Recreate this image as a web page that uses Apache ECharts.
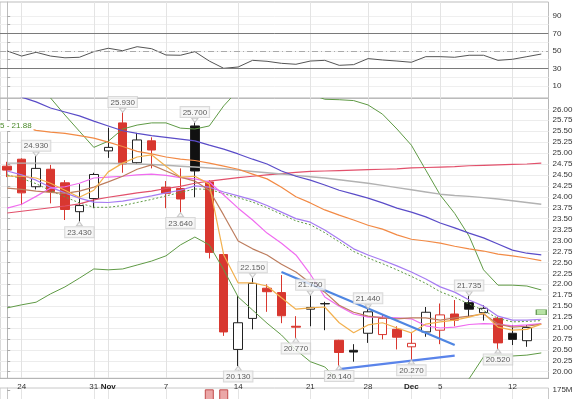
<!DOCTYPE html>
<html>
<head>
<meta charset="utf-8">
<script src="https://cdn.jsdelivr.net/npm/echarts@6/dist/echarts.min.js"></script>
<style>
  html, body { margin: 0; padding: 0; background: #fff; }
  #chart { width: 585px; height: 399px; }
</style>
</head>
<body>
<div id="chart"></div>
<script>
// trading days on screen (last one only carries indicator values)
const days = ['Oct 21','Oct 24','Oct 25','Oct 26','Oct 27','Oct 28','Oct 31',
  'Nov 1','Nov 2','Nov 3','Nov 4','Nov 7','Nov 8','Nov 9','Nov 10','Nov 11',
  'Nov 14','Nov 15','Nov 16','Nov 17','Nov 18','Nov 21','Nov 22','Nov 23','Nov 25',
  'Nov 28','Nov 29','Nov 30','Dec 1','Dec 2','Dec 5','Dec 6','Dec 7','Dec 8','Dec 9',
  'Dec 12','Dec 13','Dec 14']

// x axis labels
const tickDays = ['Oct 24','Oct 31','Nov 1','Nov 7','Nov 14','Nov 21','Nov 28','Dec 1','Dec 5','Dec 12']
const tickText = ['24','31','Nov','7','14','21','28','Dec','5','12']
const monthTicks = ['Nov','Dec']

// price axis ticks
const priceTicks = [20.00,20.25,20.50,20.75,21.00,21.25,21.50,21.75,22.00,22.25,22.50,22.75,
  23.00,23.25,23.50,23.75,24.00,24.25,24.50,24.75,25.00,25.25,25.50,25.75,26.00]
const rsiTicks = [10,20,30,40,50,60,70,80,90]
const rsiLabels = [10,30,50,70,90]

// OHLC
const opens  = [24.70,24.86,24.23,24.63,24.32,23.66,23.96,25.05,25.69,24.78,25.28,24.22,24.19,25.62,24.34,22.68,
  20.51,21.22,21.91,21.81,21.04,21.43,21.55,20.72,20.49,20.88,20.85,20.97,20.57,20.91,20.95,21.32,21.58,21.35,21.22,
  20.88,20.71,null]
const closes = [24.61,24.09,24.65,24.12,23.71,23.80,24.51,25.13,24.75,25.30,25.07,24.08,23.95,24.59,22.73,20.91,
  21.12,22.02,21.83,21.28,21.02,21.47,21.56,20.44,20.45,21.37,21.22,20.79,20.65,21.36,21.30,21.18,21.43,21.45,20.66,
  20.74,21.01,null]
const lows   = [24.45,23.81,24.17,23.85,23.47,23.43,23.74,24.89,24.55,24.75,24.65,23.74,23.64,23.99,22.59,20.82,
  20.13,20.97,21.37,21.11,20.77,21.04,20.95,20.14,20.23,20.66,20.74,20.51,20.27,20.80,20.63,21.04,21.26,21.17,20.52,
  20.61,20.57,null]
const highs  = [24.80,24.88,24.93,24.73,24.38,24.29,24.55,25.58,25.93,25.46,25.36,24.36,24.65,25.70,24.38,22.72,
  21.73,22.15,22.00,22.21,21.27,21.75,21.60,20.73,20.63,21.44,21.30,21.04,20.89,21.48,21.56,21.64,21.735,21.52,21.26,
  21.07,21.07,null]

// volume (only the two tallest bars reach into view)
const volume = [null,null,null,null,null,null,null,null,null,null,null,null,null,null,181,181,
  null,null,null,null,null,null,null,null,null,null,null,null,null,null,null,null,null,null,null,null,null,null]

// overlays
const maFast = [24.47,24.47,24.43,24.31,24.15,23.99,24.15,24.57,24.77,24.91,24.96,24.70,24.45,24.47,24.29,22.67,
  22.03,22.03,21.96,21.69,21.43,21.46,21.48,21.12,20.89,21.07,21.12,21.00,20.89,21.09,21.14,21.18,21.25,21.34,21.02,
  20.95,20.97,21.09]
const maBrown = [24.20,24.17,24.13,24.10,24.08,24.13,24.22,24.34,24.47,24.63,24.73,24.59,24.45,24.36,24.15,23.58,
  22.99,22.81,22.67,22.46,22.28,22.03,21.82,21.52,21.36,21.27,21.23,21.21,21.23,21.23,21.18,21.23,21.27,21.32,21.09,
  21.02,21.04,21.09]
const maMagenta = [23.74,23.83,24.01,24.20,24.23,24.31,24.43,24.45,24.47,24.50,24.52,24.49,24.44,24.41,24.34,24.04,
  23.74,23.47,23.17,22.94,22.67,22.23,21.71,21.50,21.32,21.25,21.25,21.23,21.21,21.05,21.00,21.02,21.08,21.10,21.09,
  21.05,21.07,21.10]
const maViolet = [24.59,24.50,24.38,24.22,24.09,23.97,23.88,23.87,23.90,23.96,24.02,24.09,24.15,24.25,24.22,24.11,
  24.02,23.93,23.80,23.65,23.50,23.42,23.24,23.03,22.81,22.67,22.55,22.42,22.28,22.12,21.94,21.82,21.64,21.50,21.27,
  21.18,21.18,21.20]
const bbMid = [24.50,24.42,24.30,24.14,24.00,23.86,23.76,23.76,23.80,23.87,23.94,24.02,24.10,24.18,24.17,24.07,
  23.98,23.88,23.75,23.60,23.45,23.36,23.18,22.97,22.75,22.60,22.47,22.33,22.18,22.02,21.83,21.70,21.55,21.40,21.22,
  21.14,21.15,21.17]
const bbUpper = [27.10,26.95,26.70,26.26,25.87,25.50,25.13,25.27,25.55,25.64,25.69,25.69,25.57,25.55,25.62,26.08,
  26.44,26.70,26.80,26.75,26.60,26.35,26.23,26.22,26.20,26.10,25.89,25.55,25.18,24.61,24.04,23.62,23.10,22.33,21.98,
  21.98,21.96,21.87]
const bbLower = [21.46,21.53,21.59,21.78,21.94,22.14,22.35,22.33,22.35,22.44,22.53,22.65,22.90,23.08,22.90,22.33,
  21.71,21.41,21.11,20.84,20.50,20.23,20.11,19.78,19.62,19.50,19.45,19.40,19.38,19.40,19.45,19.55,19.84,20.34,20.38,
  20.36,20.38,20.43]
const maOrange = [25.63,25.60,25.52,25.48,25.45,25.40,25.34,25.25,25.15,25.04,24.98,24.91,24.86,24.83,24.77,24.70,
  24.63,24.52,24.41,24.22,24.00,23.86,23.70,23.58,23.47,23.35,23.26,23.13,23.03,22.99,22.94,22.87,22.81,22.76,22.69,
  22.65,22.60,22.54]
const maBlue = [26.40,26.28,26.17,26.03,25.94,25.85,25.73,25.62,25.51,25.45,25.40,25.36,25.32,25.28,25.18,25.09,
  24.98,24.86,24.75,24.59,24.47,24.38,24.27,24.15,24.06,23.97,23.86,23.74,23.65,23.54,23.40,23.29,23.17,23.06,22.92,
  22.78,22.71,22.67]
const maGrey = [24.77,24.77,24.77,24.77,24.77,24.77,24.77,24.77,24.76,24.75,24.74,24.72,24.70,24.68,24.66,24.64,
  24.61,24.58,24.55,24.52,24.49,24.46,24.43,24.39,24.35,24.31,24.26,24.21,24.16,24.11,24.06,24.03,24.01,23.98,23.95,
  23.91,23.87,23.83]
const maRed = [23.63,23.67,23.71,23.75,23.79,23.84,23.93,23.99,24.04,24.09,24.13,24.19,24.24,24.31,24.36,24.40,
  24.44,24.47,24.50,24.53,24.56,24.58,24.59,24.60,24.61,24.62,24.63,24.64,24.66,24.67,24.68,24.69,24.71,24.72,24.73,
  24.74,24.75,24.77]

const rsi = [49.8,44.0,48.3,44.0,42.0,42.6,49.0,52.9,50.1,54.7,52.4,45.2,44.9,49.0,38.3,30.0,
  31.5,39.1,38.0,35.7,34.6,38.3,39.1,33.4,34.2,41.1,39.5,38.3,36.9,43.3,43.3,42.6,44.9,44.9,39.1,
  40.3,43.3,46.3]

// trendlines
const trendDown = [['Nov 17', 22.28], ['Dec 6', 20.61]]
const trendUp = [['Nov 23', 20.06], ['Dec 6', 20.37]]

// annotated highs / lows
const highMarks = [['Oct 25',24.93],['Nov 2',25.93],['Nov 9',25.70],['Nov 15',22.15],['Nov 21',21.75],['Nov 28',21.44],['Dec 7',21.735]]
const lowMarks = [['Oct 28',23.43],['Nov 8',23.64],['Nov 14',20.13],['Nov 18',20.77],['Nov 23',20.14],['Dec 1',20.27],['Dec 9',20.52]]

const lastPrice = [['Dec 14', 21.36]]

const RED = '#d8372f'

// stockcharts style: filled when close < open, red when close < previous close
const candleData = opens.map((o, i) => {
  if (o == null) return '-'
  const c = closes[i]
  const prev = i > 0 ? closes[i - 1] : o
  const red = c < prev
  const edge = red ? RED : '#222'
  const fill = c > o ? '#fff' : (red ? RED : '#111')
  return {
    value: [o, c, lows[i], highs[i]],
    itemStyle: { color: fill, color0: fill, borderColor: edge, borderColor0: edge }
  }
})

// hidden value axes that only draw the weekly vertical grid lines at candle centres
const tickIdx = tickDays.map(d => days.indexOf(d))
const weekAxis = (g, color) => ({
  type: 'value', gridIndex: g, position: 'top', min: -0.5, max: days.length - 0.5,
  axisLine: { show: false }, axisLabel: { show: false },
  axisTick: { show: false, customValues: tickIdx },
  splitLine: { show: true, lineStyle: { color: color, width: 1 } }
})

const line = (name, data, color, width, extra) => Object.assign({
  name, type: 'line', xAxisIndex: 1, yAxisIndex: 1, data,
  symbol: 'none', z: 4, silent: true,
  lineStyle: { color, width: width || 1 }
}, extra || {})

const gridX = { left: -5.5, right: 36.5 }

const option = {
  animation: false,
  textStyle: { fontFamily: 'Liberation Sans, Arial, sans-serif' },
  grid: [
    Object.assign({ top: 2, height: 96, show: true, borderColor: '#bdbdbd', backgroundColor: '#fff' }, gridX),
    Object.assign({ top: 98.4, height: 279.9, show: true, borderColor: '#b5b5b5', backgroundColor: '#fff' }, gridX),
    Object.assign({ top: 388, height: 56, show: true, borderColor: '#c8c8c8', backgroundColor: '#fff' }, gridX)
  ],
  xAxis: [
    { type: 'category', gridIndex: 0, data: days, boundaryGap: true, axisLine: { show: false },
      axisTick: { show: false }, axisLabel: { show: false }, splitLine: { show: false } },
    { type: 'category', gridIndex: 1, data: days, boundaryGap: true,
      axisLine: { show: true, lineStyle: { color: '#b5b5b5' } },
      axisTick: { show: false }, splitLine: { show: false },
      axisLabel: {
        interval: 0, fontSize: 8, color: '#333', margin: 4,
        formatter: (v) => {
          const k = tickDays.indexOf(v)
          if (k < 0) return ''
          return monthTicks.includes(tickText[k]) ? '{b|' + tickText[k] + '}' : tickText[k]
        },
        rich: { b: { fontWeight: 'bold', fontSize: 8, color: '#222' } }
      } },
    { type: 'category', gridIndex: 2, data: days, boundaryGap: true, axisLine: { show: false },
      axisTick: { show: false }, axisLabel: { show: false }, splitLine: { show: false } },
    weekAxis(0, '#e4e4e4'),
    weekAxis(1, '#e2e2e2'),
    weekAxis(2, '#e4e4e4')
  ],
  yAxis: [
    { type: 'value', gridIndex: 0, position: 'right', min: -3.94, max: 105.77,
      axisLine: { show: true, lineStyle: { color: '#bdbdbd' } },
      axisTick: { show: true, length: 3, lineStyle: { color: '#aaa' }, customValues: rsiTicks },
      axisLabel: { customValues: rsiLabels, fontSize: 8, color: '#333', margin: 4 },
      splitLine: { show: true, lineStyle: { color: '#efefef' } } },
    { type: 'value', gridIndex: 1, position: 'right', min: 19.85, max: 26.25,
      axisLine: { show: true, lineStyle: { color: '#b5b5b5' } },
      axisTick: { show: true, length: 3, lineStyle: { color: '#aaa' }, customValues: priceTicks },
      axisLabel: { customValues: priceTicks, fontSize: 8, color: '#333', margin: 4,
        formatter: (v) => v.toFixed(2) },
      splitLine: { show: true, lineStyle: { color: '#ececec' } } },
    { type: 'value', gridIndex: 2, position: 'right', min: 0, max: 200,
      axisLine: { show: true, lineStyle: { color: '#c8c8c8' } },
      axisTick: { show: true, length: 3, lineStyle: { color: '#aaa' }, customValues: [175] },
      axisLabel: { customValues: [175], fontSize: 8, color: '#333', margin: 4, formatter: (v) => v + 'M' },
      splitLine: { show: false } }
  ],
  series: [
    // RSI panel
    { type: 'line', xAxisIndex: 0, yAxisIndex: 0, data: rsi, symbol: 'none', silent: true, z: 3,
      lineStyle: { color: '#555', width: 1 },
      markLine: {
        symbol: 'none', silent: true, label: { show: false },
        data: [
          { yAxis: 70, lineStyle: { color: '#7a7a7a', type: 'solid', width: 1 } },
          { yAxis: 30, lineStyle: { color: '#7a7a7a', type: 'solid', width: 1 } },
          { yAxis: 50, lineStyle: { color: '#aaa', type: [6, 3, 1, 3], width: 1 } }
        ]
      } },

    // price panel
    { type: 'candlestick', xAxisIndex: 1, yAxisIndex: 1, data: candleData, barWidth: 9, z: 2, silent: true },

    line('BB upper', bbUpper, '#5f9a45', 1),
    line('BB lower', bbLower, '#5f9a45', 1),
    line('BB mid', bbMid, '#5f9a45', 1, { lineStyle: { color: '#5f9a45', width: 1, type: [2, 2] } }),
    line('MA red', maRed, '#e2506b', 1.2),
    line('MA grey', maGrey, '#b2b2b2', 1.4),
    line('MA blue', maBlue, '#5a4cc8', 1.2),
    line('MA orange', maOrange, '#f28a45', 1.2),
    line('MA violet', maViolet, '#a67cf2', 1.2),
    line('MA magenta', maMagenta, '#f06cf0', 1.2),
    line('MA brown', maBrown, '#bd7d5e', 1.2),
    line('MA fast', maFast, '#f2b04e', 1.2),
    line('trend down', trendDown, '#4f86e2', 2.2, { z: 5 }),
    line('trend up', trendUp, '#5a84ea', 2.2, { z: 5 }),

    // high / low annotations
    { type: 'scatter', xAxisIndex: 1, yAxisIndex: 1, data: highMarks, z: 6, silent: true,
      symbol: 'triangle', symbolRotate: 180, symbolSize: [6, 4], symbolOffset: [0, -2],
      itemStyle: { color: '#f6f6f6', borderColor: '#bbb', borderWidth: 1 },
      label: { show: true, position: 'top', distance: 1, formatter: (p) => p.value[1].toFixed(3),
        fontSize: 8, color: '#333', backgroundColor: '#f6f6f6', borderColor: '#cfcfcf', borderWidth: 1,
        padding: [1, 2, 0, 2], lineHeight: 9 } },
    { type: 'scatter', xAxisIndex: 1, yAxisIndex: 1, data: lowMarks, z: 6, silent: true,
      symbol: 'triangle', symbolSize: [6, 4], symbolOffset: [0, 2],
      itemStyle: { color: '#f6f6f6', borderColor: '#bbb', borderWidth: 1 },
      label: { show: true, position: 'bottom', distance: 1, formatter: (p) => p.value[1].toFixed(3),
        fontSize: 8, color: '#333', backgroundColor: '#f6f6f6', borderColor: '#cfcfcf', borderWidth: 1,
        padding: [1, 2, 0, 2], lineHeight: 9 } },

    // last price marker
    { type: 'scatter', xAxisIndex: 1, yAxisIndex: 1, data: lastPrice, z: 6, silent: true,
      symbol: 'rect', symbolSize: [10, 5],
      itemStyle: { color: '#a6dc8e', borderColor: '#4f8a3c', borderWidth: 1 } },

    // volume panel
    { type: 'bar', xAxisIndex: 2, yAxisIndex: 2, data: volume, barWidth: 9, silent: true,
      itemStyle: { color: 'rgba(216,80,80,0.5)', borderColor: '#c24a4a', borderWidth: 1 } }
  ],
  graphic: [
    { type: 'text', left: 0, top: 121, z: 10,
      style: { text: '5 - 21.88', fill: '#4c8a2c', backgroundColor: '#fff', padding: [1, 2, 1, 0],
        font: '8px Liberation Sans, Arial, sans-serif' } }
  ]
}

const chart = echarts.init(document.getElementById('chart'), null, { renderer: 'canvas' })
chart.setOption(option)
</script>
</body>
</html>
